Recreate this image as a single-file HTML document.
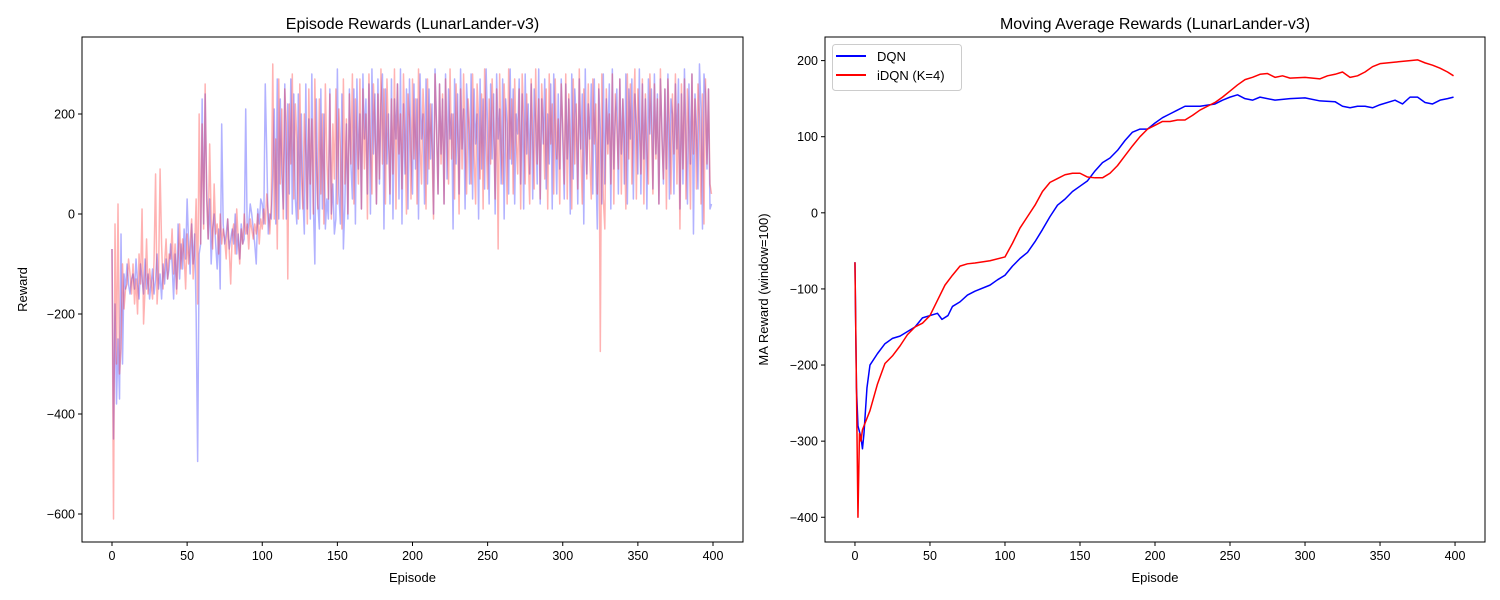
<!DOCTYPE html>
<html><head><meta charset="utf-8"><style>
body{margin:0;background:#fff}
svg{display:block;font-family:"Liberation Sans","DejaVu Sans",sans-serif}
</style></head><body>
<svg id="fig" width="1500" height="600" xmlns="http://www.w3.org/2000/svg"></svg>
<script>
const dqnRewards=[-70,-450,-180,-380,-250,-370,-40,-300,-120,-150,-100,-140,-160,-130,-120,-150,-90,-140,-170,-100,
-130,-160,-90,-150,-120,-170,-140,-110,-160,-130,-80,-150,-120,-170,-100,-140,-90,-130,-110,-60,
-100,-170,-80,-150,-20,-130,-60,-110,-30,-90,30,-60,-120,-20,-100,-40,-200,-495,-80,-60,
230,-20,240,50,-50,30,-100,-30,0,-60,-110,-30,-150,180,-20,-60,-40,-10,-70,-50,
-30,-60,0,-80,-40,-90,-20,-60,-50,210,-40,-20,20,0,-30,-60,-100,10,-20,30,
20,-20,260,120,-40,0,-10,80,210,-20,270,-10,230,80,10,260,-10,220,40,270,
0,240,30,-20,240,10,200,40,-40,260,10,190,-10,280,20,-100,230,20,-30,250,
10,200,-30,30,-10,250,0,60,-40,-10,290,40,-20,240,-70,20,180,-10,250,100,
30,250,-20,270,90,200,10,280,150,230,40,260,0,290,120,240,20,270,60,220,
280,-30,250,100,200,20,270,-10,230,150,260,30,290,-20,220,80,250,10,270,130,
40,260,90,230,-10,280,150,200,20,270,60,250,110,220,0,290,180,40,260,120,
230,20,280,70,250,150,200,-30,270,100,240,40,290,130,210,10,260,190,60,280,
30,250,140,200,-10,270,90,230,50,290,170,20,260,110,240,0,280,150,210,60,
270,-10,230,180,40,290,100,250,20,200,160,270,60,240,10,280,120,220,80,260,
30,250,180,60,290,20,230,140,270,50,200,100,260,10,280,160,40,240,90,270,
150,30,260,110,230,0,280,70,250,190,20,270,130,240,-20,290,80,220,150,260,
40,270,100,-30,250,170,20,280,60,230,140,260,10,290,90,200,250,40,270,120,
230,60,280,20,250,150,270,30,240,180,80,290,40,260,110,230,10,270,160,250,
50,280,120,240,20,270,170,60,250,90,280,30,230,200,40,260,130,270,10,240,
60,290,150,20,260,100,280,-40,240,170,50,300,210,-30,280,240,90,250,10,20];
const idqnRewards=[-70,-610,-20,-300,20,-320,-270,-100,-190,-150,-140,-90,-120,-160,-100,-180,-130,-200,-80,-140,
10,-220,-150,-50,-160,-110,-140,-170,-90,80,-180,-120,90,-60,-150,-100,-50,-130,-80,-90,
-30,-120,-60,-160,-90,-20,-110,-50,-80,-150,-40,-100,-60,-10,-130,-70,30,-180,200,-60,
180,-30,260,30,-50,140,-10,-70,60,-40,-20,-80,0,-60,-30,-50,-90,-10,-70,-140,
-40,-20,-80,10,-50,-100,-30,-60,0,-40,-20,-70,-10,-30,-50,-20,-40,0,-60,-10,
-30,10,-20,40,0,-40,20,300,-10,150,-70,270,60,210,-10,250,180,-130,220,100,
280,30,220,150,-10,260,80,10,200,120,-20,250,60,190,0,270,100,10,230,40,
200,-20,260,110,30,240,-10,180,70,250,20,210,130,-30,270,60,190,0,240,100,
280,20,230,150,60,270,10,250,90,200,-10,280,130,40,260,180,20,240,70,290,
100,250,20,270,160,40,230,80,290,10,260,120,200,50,280,150,0,240,190,30,
270,110,230,20,290,140,60,250,180,10,270,90,220,130,-10,280,170,40,260,100,
240,20,270,150,60,290,110,200,30,260,180,0,250,90,280,140,40,230,170,60,
280,120,20,260,190,70,240,10,290,150,50,230,100,270,180,30,250,-70,280,130,
60,260,170,20,290,110,230,40,270,150,80,250,10,280,190,60,240,120,20,270,
160,50,290,100,230,30,260,180,70,250,10,280,140,220,40,270,110,190,20,260,
180,60,280,30,240,150,10,270,100,220,50,290,130,20,250,170,70,260,110,30,
270,140,220,40,260,-275,280,30,-30,250,120,200,60,280,20,240,170,90,270,40,
230,150,10,280,110,260,60,200,290,30,250,170,80,270,20,240,130,60,280,190,
40,260,110,230,20,290,150,70,250,10,270,180,40,240,120,280,60,220,-30,260,
90,270,30,250,160,10,280,120,230,50,260,190,20,240,-20,270,100,250,60,40];
const dqnMaEp=[0,1,2,4,5,6,8,10,15,20,25,30,40,45,50,55,58,62,65,70,75,80,90,95,100,105,110,115,120,125,130,135,140,145,150,155,160,165,170,175,180,185,190,195,200,205,210,215,220,230,240,245,250,255,260,265,270,280,290,300,310,320,325,330,335,340,345,350,360,365,370,375,380,385,390,395,399];
const dqnMa=[-65,-230,-280,-295,-310,-290,-230,-200,-185,-172,-165,-162,-150,-138,-135,-132,-140,-135,-123,-117,-108,-103,-95,-88,-82,-70,-60,-52,-38,-22,-5,10,18,28,35,42,55,66,72,82,95,106,110,110,118,125,130,135,140,140,143,148,152,155,150,148,152,148,150,151,147,146,140,138,140,140,138,142,148,143,152,152,145,143,148,150,152];
const idqnMaEp=[0,1,2,3,4,5,7,10,15,20,25,30,35,40,45,50,55,60,65,70,75,80,90,100,105,110,115,120,125,130,135,140,145,150,155,160,165,170,175,180,185,190,195,200,205,210,215,220,225,230,235,240,245,250,255,260,265,270,275,280,285,290,300,310,315,320,325,330,335,340,345,350,360,370,375,380,385,390,395,399];
const idqnMa=[-65,-230,-400,-290,-300,-285,-275,-260,-225,-198,-188,-175,-160,-150,-145,-135,-115,-95,-82,-70,-67,-66,-63,-58,-40,-20,-5,10,28,40,45,50,52,52,47,46,46,52,62,75,88,100,110,115,120,120,122,122,128,135,140,145,152,160,168,175,178,182,183,178,180,177,178,176,180,182,185,178,180,185,192,196,198,200,201,197,194,190,185,180];
const xTicks=[0,50,100,150,200,250,300,350,400];
const leftYTicks=[-600,-400,-200,0,200];
const rightYTicks=[-400,-300,-200,-100,0,100,200];

const svg=document.getElementById('fig');
const NS='http://www.w3.org/2000/svg';
function mk(tag,attrs,parent){const e=document.createElementNS(NS,tag);for(const k in attrs)e.setAttribute(k,attrs[k]);(parent||svg).appendChild(e);return e;}
function txt(s,attrs,parent){const e=mk('text',attrs,parent);e.textContent=s;return e;}

function panel(o){
  const g=mk('g',{});
  
  
  const sx=v=>o.x0+(v-o.xmin)/(o.xmax-o.xmin)*(o.x1-o.x0);
  const sy=v=>o.y1-(v-o.ymin)/(o.ymax-o.ymin)*(o.y1-o.y0);
  const clipId='clip-'+o.name;
  const cp=mk('clipPath',{id:clipId},g);mk('rect',{x:o.x0,y:o.y0,width:o.x1-o.x0,height:o.y1-o.y0},cp);
  const sg=mk('g',{'clip-path':'url(#'+clipId+')'},g);
  o.series.forEach(s=>{
    const d=s.y.map((v,i)=>(i?'L':'M')+sx(s.x?s.x[i]:i).toFixed(2)+','+sy(v).toFixed(2)).join('');
    const p=mk('path',{d:d,fill:'none',stroke:s.color,'stroke-width':1.5,'stroke-opacity':s.alpha,'stroke-linejoin':'round'},sg);
    
    
  });
  const frame=mk('rect',{x:o.x0,y:o.y0,width:o.x1-o.x0,height:o.y1-o.y0,fill:'none',stroke:'#000','stroke-width':1},g);
  
  
  const xa=mk('g',{},g);
  
  
  xTicks.forEach(t=>{const x=sx(t);mk('line',{x1:x,x2:x,y1:o.y1,y2:o.y1+4,stroke:'#000'},xa);
    txt(String(t),{x:x,y:o.y1+18,'font-size':12.5,'text-anchor':'middle'},xa);});
  const ya=mk('g',{},g);
  
  
  o.yTicks.forEach(t=>{const y=sy(t);mk('line',{x1:o.x0-4,x2:o.x0,y1:y,y2:y,stroke:'#000'},ya);
    txt(String(t).replace('-','\u2212'),{x:o.x0-7,y:y+4.5,'font-size':12.5,'text-anchor':'end'},ya);});
  const tt=txt(o.title,{x:(o.x0+o.x1)/2,y:29,'font-size':16,'text-anchor':'middle'},g);
  
  
  const xl=txt('Episode',{x:(o.x0+o.x1)/2,y:582,'font-size':13,'text-anchor':'middle'},g);
  
  
  const cy=(o.y0+o.y1)/2;
  const yl=txt(o.ylabel,{x:o.ylx,y:cy,'font-size':13,'text-anchor':'middle',transform:'rotate(-90 '+o.ylx+' '+cy+')'},g);
  
  
}
panel({name:'episode-rewards-panel',x0:82,x1:743,y0:37,y1:542,xmin:-19.97,xmax:419.97,ymin:-656,ymax:354,
  yTicks:leftYTicks,title:'Episode Rewards (LunarLander-v3)',ylabel:'Reward',ylx:27,
  series:[{name:'dqn-rewards-line',y:dqnRewards,color:'#0000ff',alpha:0.3},{name:'idqn-rewards-line',y:idqnRewards,color:'#ff0000',alpha:0.3}]});
panel({name:'moving-average-panel',x0:825,x1:1485,y0:37,y1:542,xmin:-19.97,xmax:419.97,ymin:-432.5,ymax:231,
  yTicks:rightYTicks,title:'Moving Average Rewards (LunarLander-v3)',ylabel:'MA Reward (window=100)',ylx:768,
  series:[{name:'dqn-ma-line',x:dqnMaEp,y:dqnMa,color:'#0000ff',alpha:1},{name:'idqn-ma-line',x:idqnMaEp,y:idqnMa,color:'#ff0000',alpha:1}]});

const lg=mk('g',{});


mk('rect',{x:832.5,y:44.5,width:129,height:46,rx:3,fill:'#fff','fill-opacity':0.8,stroke:'#ccc'},lg);
[['DQN','#0000ff',56],['iDQN (K=4)','#ff0000',75]].forEach(([l,c,y])=>{
  const e=mk('g',{},lg);
  
  
  mk('line',{x1:836,x2:866,y1:y,y2:y,stroke:c,'stroke-width':2},e);
  txt(l,{x:877,y:y+5,'font-size':13},e);
});
</script>
</body></html>
